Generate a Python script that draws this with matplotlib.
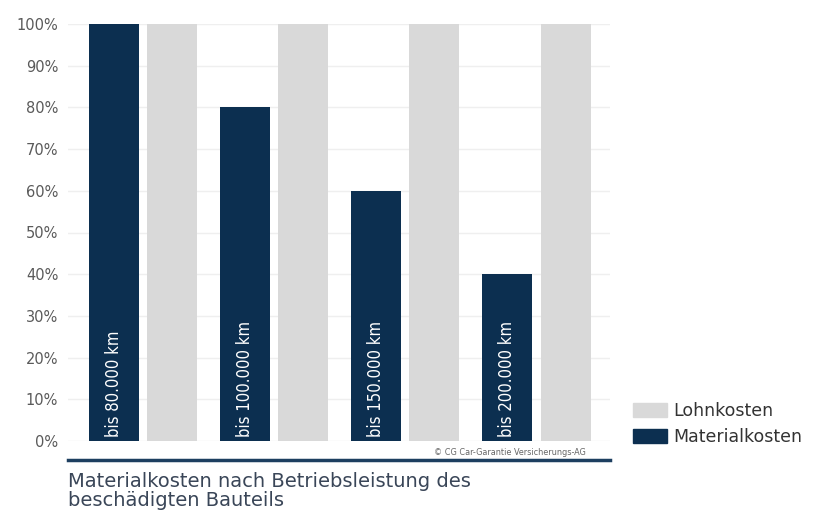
import matplotlib.pyplot as plt
import numpy as np
from matplotlib.patches import Patch

# ── data ──────────────────────────────────────────────────────────────────────
ranges = ["bis 80.000 km", "bis 100.000 km", "bis 150.000 km", "bis 200.000 km"]
material = [100, 80, 60, 40]
lohn = [100, 100, 100, 100]
yticks = [0, 10, 20, 30, 40, 50, 60, 70, 80, 90, 100]

DARK = "#0c2f50"
GREY = "#d9d9d9"

fig = plt.figure(figsize=(8.15, 5.13), dpi=100)
W, H = 815, 513
ax = fig.add_axes([68 / W, 1 - 441 / H, (610 - 68) / W, (441 - 24) / H])

x = np.arange(len(ranges))
width = 0.38
off = 0.222
ax.bar(x - off, material, width, color=DARK, zorder=2)
ax.bar(x + off, lohn, width, color=GREY, zorder=2)

for xi, label in zip(x, ranges):
    ax.text(xi - off, 1.0, label, rotation=90, ha="center", va="bottom",
            color="white", fontsize=12, fontstretch="condensed", zorder=3)

ax.set_xlim(-0.57, 3.56)
ax.set_ylim(0, 100)
ax.set_yticks(yticks)
ax.set_yticklabels([f"{v}%" for v in yticks], fontsize=10.5, color="#5a5a5a")
ax.tick_params(axis="y", length=0, pad=7)
ax.set_xticks([])
ax.grid(axis="y", color="#efefef", linewidth=1, zorder=0)
for s in ax.spines.values():
    s.set_visible(False)

# bottom rule + source
ax.plot([0, 1], [-0.046, -0.046], transform=ax.transAxes, color="#1d3f60",
        linewidth=2.5, clip_on=False)
ax.text(0.815, -0.027, "© CG Car-Garantie Versicherungs-AG", transform=ax.transAxes,
        ha="center", va="center", fontsize=6.5, color="#666666", fontstretch="condensed")

fig.text(68 / W, 1 - 472 / H, "Materialkosten nach Betriebsleistung des\nbeschädigten Bauteils",
         ha="left", va="top", fontsize=14, color="#3a4658", linespacing=1.02)

handles = [Patch(color=GREY), Patch(color=DARK)]
fig.legend(handles, ["Lohnkosten", "Materialkosten"], loc="center left",
           bbox_to_anchor=(617 / W, 1 - 424 / H), frameon=False, fontsize=12.5,
           handlelength=2.0, handleheight=0.9, handletextpad=0.35, labelspacing=0.45,
           labelcolor="#333333")

fig.savefig("out.png", dpi=100)
